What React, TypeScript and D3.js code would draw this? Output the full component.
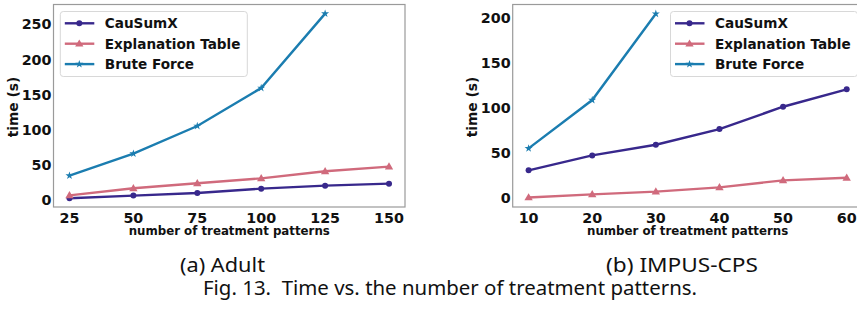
import React from "react";
import * as d3 from "d3";

const seriesNames = ["CauSumX", "Explanation Table", "Brute Force"];
const seriesColors = ["#38288c", "#d06a7c", "#1b7db0"];
const seriesMarkers = ["circle", "triangle", "star"];

const adultX = [25, 50, 75, 100, 125, 150];
const adultCauSumX = [2.4, 6.2, 10, 16.1, 20.4, 23.2];
const adultExplTable = [6.6, 16.6, 23.7, 30.8, 40.8, 47.4];
const adultBruteX = [25, 50, 75, 100, 125];
const adultBrute = [34.6, 65.9, 105.3, 159.4, 265.2];
const adultXTicks = [25, 50, 75, 100, 125, 150];
const adultYTicks = [0, 50, 100, 150, 200, 250];

const impusX = [10, 20, 30, 40, 50, 60];
const impusCauSumX = [30.4, 47, 58.9, 76.3, 101.1, 120.4];
const impusExplTable = [0.3, 3.7, 6.7, 11.5, 19.3, 22.2];
const impusBruteX = [10, 20, 30];
const impusBrute = [54.8, 108.5, 204.4];
const impusXTicks = [10, 20, 30, 40, 50, 60];
const impusYTicks = [0, 50, 100, 150, 200];

const subCaptions = ["(a) Adult", "(b) IMPUS-CPS"];
const figCaption = "Fig. 13.  Time vs. the number of treatment patterns.";
const xLabel = "number of treatment patterns";
const yLabel = "time (s)";

const CHART_FONT = "'DejaVu Sans', sans-serif";
const CAP_FONT = "'Noto Sans', sans-serif";

function Marker({ type, x, y, color }: { type: string; x: number; y: number; color: string }) {
  if (type === "circle") return <circle cx={x} cy={y} r={3} fill={color} />;
  if (type === "triangle") {
    const sym = d3.symbol().type(d3.symbolTriangle).size(30)();
    return <path d={sym as string} transform={`translate(${x},${y + 0.5})`} fill={color} />;
  }
  const sym = d3.symbol().type(d3.symbolStar).size(20)();
  return <path d={sym as string} transform={`translate(${x},${y})`} fill={color} />;
}

type Series = { xs: number[]; ys: number[] };

function Panel({
  left, right, xDomain, yDomain, xTicks, yTicks, series, legendX, legendW, ylabelX,
}: {
  left: number; right: number; xDomain: [number, number]; yDomain: [number, number];
  xTicks: number[]; yTicks: number[]; series: Series[]; legendX: number; legendW: number; ylabelX: number;
}) {
  const top = 4.5, bottom = 207;
  const x = d3.scaleLinear().domain(xDomain).range([left, right]);
  const y = d3.scaleLinear().domain(yDomain).range([bottom, top]);
  const line = d3.line<[number, number]>().x((d) => x(d[0])).y((d) => y(d[1]));
  const cx = (left + right) / 2;
  return (
    <g>
      <defs>
        <clipPath id={`clip${Math.round(left)}`}>
          <rect x={left} y={top} width={right - left} height={bottom - top} />
        </clipPath>
      </defs>
      <rect x={left} y={top} width={right - left} height={bottom - top} fill="none" stroke="#9a9a9a" strokeWidth={1.2} />
      {yTicks.map((t) => (
        <text key={t} x={left - 2} y={y(t)} dy="0.36em" textAnchor="end" fontFamily={CHART_FONT} fontWeight="bold" fontSize={14.3} fill="#111">
          {t}
        </text>
      ))}
      {xTicks.map((t) => (
        <text key={t} x={x(t)} y={223} textAnchor="middle" fontFamily={CHART_FONT} fontWeight="bold" fontSize={14.3} fill="#111">
          {t}
        </text>
      ))}
      <text transform={`translate(${ylabelX},107) rotate(-90)`} textAnchor="middle" fontFamily={CHART_FONT} fontWeight="bold" fontSize={13.8} fill="#111">
        {yLabel}
      </text>
      <text x={cx} y={234.5} textAnchor="middle" fontFamily={CHART_FONT} fontWeight="bold" fontSize={11.8} fill="#111">
        {xLabel}
      </text>
      <g clipPath={`url(#clip${Math.round(left)})`}>
        {series.map((s, i) => (
          <g key={i}>
            <path d={line(s.xs.map((v, j) => [v, s.ys[j]]) as [number, number][]) as string} fill="none" stroke={seriesColors[i]} strokeWidth={2.4} />
            {s.xs.map((v, j) => (
              <Marker key={j} type={seriesMarkers[i]} x={x(v)} y={y(s.ys[j])} color={seriesColors[i]} />
            ))}
          </g>
        ))}
      </g>
      <rect x={legendX} y={11.5} width={legendW} height={65} rx={3} fill="white" fillOpacity={0.85} stroke="#d8d8d8" strokeWidth={1} />
      {seriesNames.map((n, i) => {
        const ly = 23.3 + i * 20.4;
        return (
          <g key={n}>
            <line x1={legendX + 4.5} x2={legendX + 34} y1={ly} y2={ly} stroke={seriesColors[i]} strokeWidth={2.4} />
            <Marker type={seriesMarkers[i]} x={legendX + 19} y={ly} color={seriesColors[i]} />
            <text x={legendX + 44.5} y={ly} dy="0.36em" fontFamily={CHART_FONT} fontWeight="bold" fontSize={13.6} fill="#111">
              {n}
            </text>
          </g>
        );
      })}
    </g>
  );
}

export default function App() {
  return (
    <svg width={857} height={312} style={{ position: "absolute", left: 0, top: 0, background: "white" }}>
      <Panel
        left={53.5}
        right={405}
        xDomain={[18.75, 156.25]}
        yDomain={[-10, 278.2]}
        xTicks={adultXTicks}
        yTicks={adultYTicks}
        series={[
          { xs: adultX, ys: adultCauSumX },
          { xs: adultX, ys: adultExplTable },
          { xs: adultBruteX, ys: adultBrute },
        ]}
        legendX={60.3}
        legendW={187}
        ylabelX={17.5}
      />
      <Panel
        left={512.7}
        right={862.6}
        xDomain={[7.5, 62.5]}
        yDomain={[-10.33, 214.7]}
        xTicks={impusXTicks}
        yTicks={impusYTicks}
        series={[
          { xs: impusX, ys: impusCauSumX },
          { xs: impusX, ys: impusExplTable },
          { xs: impusBruteX, ys: impusBrute },
        ]}
        legendX={670.5}
        legendW={187}
        ylabelX={476.5}
      />
      <text x={180} y={272} textLength={85} lengthAdjust="spacingAndGlyphs" fontFamily={CAP_FONT} fontSize={19.5} fill="#111">
        {subCaptions[0]}
      </text>
      <text x={606} y={272} textLength={152} lengthAdjust="spacingAndGlyphs" fontFamily={CAP_FONT} fontSize={19.5} fill="#111">
        {subCaptions[1]}
      </text>
      <text x={203} y={295} textLength={494} lengthAdjust="spacingAndGlyphs" fontFamily={CAP_FONT} fontSize={19.5} fill="#111" style={{ whiteSpace: "pre" }}>
        {figCaption}
      </text>
    </svg>
  );
}
